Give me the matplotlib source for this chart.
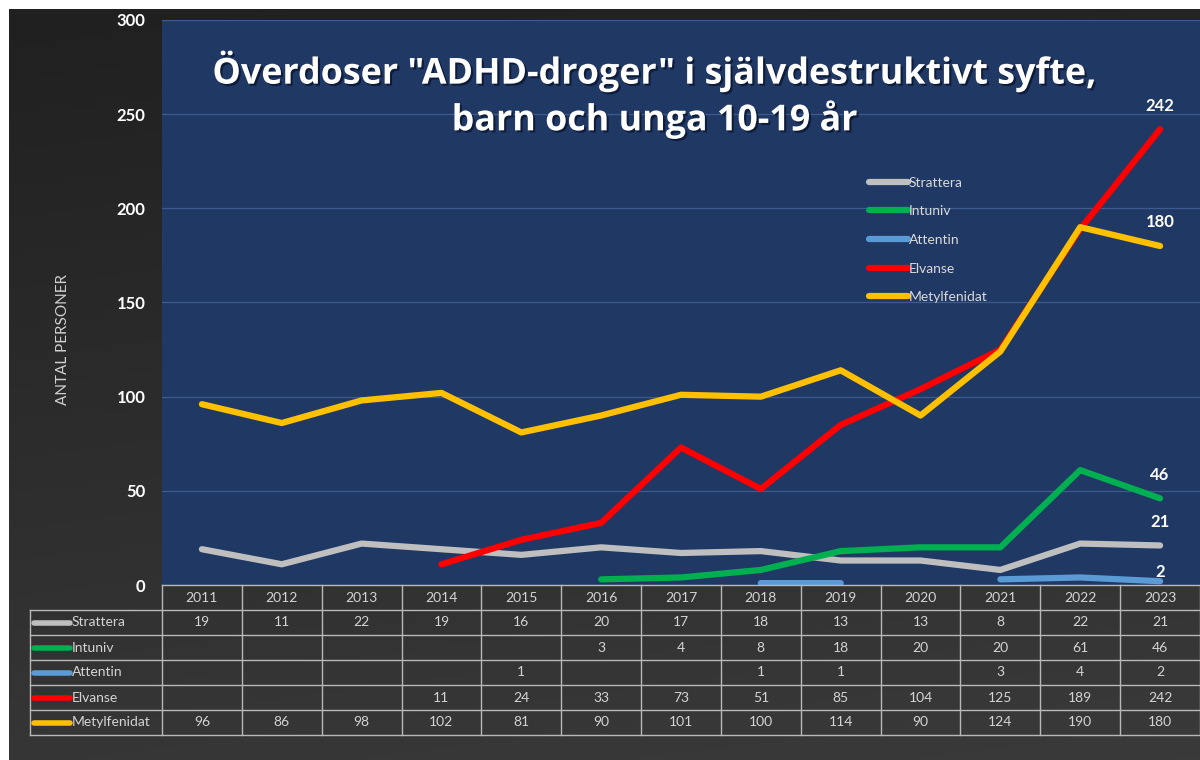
import numpy as np
import matplotlib.pyplot as plt
import matplotlib.patheffects as pe
from matplotlib.colors import LinearSegmentedColormap

years = [2011, 2012, 2013, 2014, 2015, 2016, 2017, 2018, 2019, 2020, 2021, 2022, 2023]
nan = np.nan
strattera = [19, 11, 22, 19, 16, 20, 17, 18, 13, 13, 8, 22, 21]
intuniv = [nan, nan, nan, nan, nan, 3, 4, 8, 18, 20, 20, 61, 46]
attentin = [nan, nan, nan, nan, 1, nan, nan, 1, 1, nan, 3, 4, 2]
elvanse = [nan, nan, nan, 11, 24, 33, 73, 51, 85, 104, 125, 189, 242]
metylfenidat = [96, 86, 98, 102, 81, 90, 101, 100, 114, 90, 124, 190, 180]

names = ["Strattera", "Intuniv", "Attentin", "Elvanse", "Metylfenidat"]
series = [strattera, intuniv, attentin, elvanse, metylfenidat]
colors = ["#BFBFBF", "#00B050", "#5B9BD5", "#FF0000", "#FFC000"]
label_offsets = [17, 17, 7, 17, 17]  # points above the last value

W, H = 1200, 760
fig = plt.figure(figsize=(12, 7.6), dpi=100)
fig.patch.set_facecolor("white")

# dark gradient background
bg = fig.add_axes([9 / W, 0, 1 - 9 / W, 751 / H])
yy, xx = np.mgrid[0:1:200j, 0:1:200j]
grad = 0.6 * yy + 0.12 * xx
cmap = LinearSegmentedColormap.from_list("bg", ["#202020", "#3a3a3a"])
bg.imshow(grad, aspect="auto", cmap=cmap, extent=[0, 1, 0, 1], origin="upper")
bg.axis("off")

# main plot area
ax = fig.add_axes([162 / W, 175 / H, 1038 / W, 565 / H])
ax.set_facecolor("#203864")
x = np.arange(len(years))
for name, vals, c in zip(names, series, colors):
    ax.plot(x, vals, color=c, lw=4.5, solid_capstyle="round",
            solid_joinstyle="round", label=name)

for vals, off in zip(series, label_offsets):
    ax.annotate(f"{vals[-1]}", (x[-1], vals[-1]), xytext=(0, off),
                textcoords="offset points", ha="center", va="center",
                color="white", fontsize=12, fontweight="bold", family="Lato")

ax.set_xlim(-0.5, len(years) - 0.5)
ax.set_ylim(0, 300)
ax.set_yticks(range(0, 301, 50))
ax.set_xticks([])
ax.tick_params(axis="y", length=0, pad=12, labelcolor="white", labelsize=12)
for lab in ax.get_yticklabels():
    lab.set_fontweight("bold")
    lab.set_family("Lato")
ax.yaxis.grid(True, color="#3d5b8c", lw=0.9)
ax.set_axisbelow(True)
for s in ax.spines.values():
    s.set_visible(False)
ax.set_ylabel("ANTAL PERSONER", color="#d0d0d0", fontsize=11, family="Lato")
ax.yaxis.set_label_coords(-0.0886, 0.434)

leg = ax.legend(loc="upper left", bbox_to_anchor=(0.669, 0.745), frameon=False,
                handlelength=2.8, handletextpad=0.05, labelspacing=1.2,
                prop={"family": "Lato", "size": 10})
for t in leg.get_texts():
    t.set_color("#d9d9d9")

fig.text(655 / W, 1 - 95 / H,
         'Överdoser "ADHD-droger" i självdestruktivt syfte,\nbarn och unga 10-19 år',
         ha="center", va="center", color="white", fontsize=25.8, fontweight="bold",
         family="Open Sans", linespacing=1.25,
         path_effects=[pe.SimplePatchShadow(offset=(1.5, -1.5), shadow_rgbFace="#0a1630", alpha=0.8),
                       pe.Normal()])

# data table under the plot
col_w = 1038 / len(years)
label_w = 132 / col_w
tax = fig.add_axes([30 / W, 25 / H, 1170 / W, 150 / H])
tax.set_xlim(-0.5 - label_w, len(years) - 0.5)
tax.set_ylim(6, 0)
tax.axis("off")
left = -0.5 - label_w
grid_c = "#b8b8b8"
for i in range(7):
    x0 = -0.5 if i == 0 else left
    tax.plot([x0, len(years) - 0.5], [i, i], color=grid_c, lw=1, clip_on=False)
for k in range(len(years) + 1):
    tax.plot([k - 0.5, k - 0.5], [0, 6], color=grid_c, lw=1, clip_on=False)
tax.plot([left, left], [1, 6], color=grid_c, lw=1, clip_on=False)

txt_c = "#d4d4d4"
for j, yr in enumerate(years):
    tax.text(j, 0.5, str(yr), ha="center", va="center", color=txt_c,
             fontsize=10, family="Lato")
for r, (name, vals, c) in enumerate(zip(names, series, colors)):
    yc = r + 1.5
    tax.plot([left + 0.05, left + 0.5], [yc, yc], color=c, lw=4,
             solid_capstyle="round", clip_on=False)
    tax.text(left + 0.52, yc, name, ha="left", va="center", color=txt_c,
             fontsize=10, family="Lato")
    for j, v in enumerate(vals):
        if not np.isnan(v):
            tax.text(j, yc, f"{int(v)}", ha="center", va="center", color=txt_c,
                     fontsize=10, family="Lato")

fig.savefig("out.png", dpi=100)
